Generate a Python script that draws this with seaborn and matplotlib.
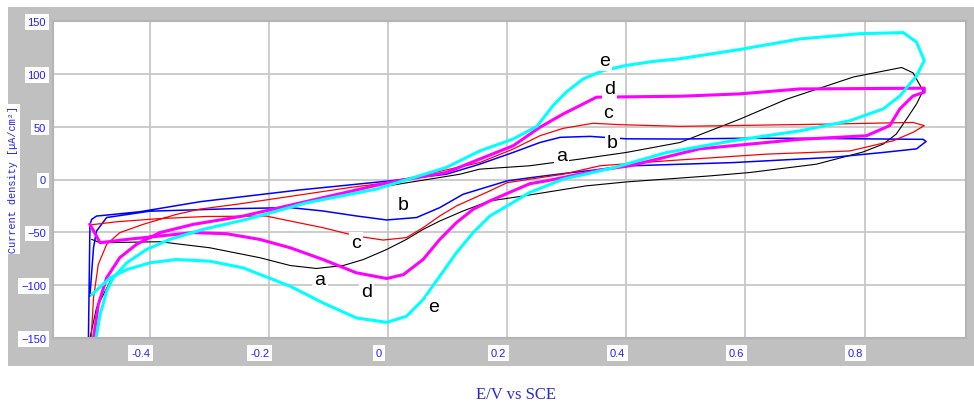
import numpy as np
import pandas as pd
import matplotlib
matplotlib.use('Agg')
import matplotlib.pyplot as plt
import matplotlib.transforms as mtrans
import seaborn as sns

# ── Data (E in V vs SCE, j in uA/cm2) ────────────────────────────────────────
# each curve: anodic sweep from -0.5 V up to 0.9 V, then cathodic sweep back
A_E = [-0.502, -0.500, -0.489, -0.466, -0.438, -0.405, -0.366, -0.310, -0.237, -0.136,
       -0.019, 0.000, 0.121, 0.154, 0.238, 0.322, 0.400, 0.490, 0.590, 0.669, 0.781,
       0.862, 0.881, 0.898,
       0.887, 0.870, 0.853, 0.831, 0.797, 0.719, 0.607, 0.540, 0.400, 0.333, 0.227,
       0.171, 0.126, 0.087, 0.059, 0.031, -0.002, -0.041, -0.075, -0.120, -0.164,
       -0.215, -0.299, -0.383, -0.483, -0.497]
A_J = [-170, -150, -121.6, -96.3, -78.8, -66.2, -56.7, -47.2, -37.7, -22,
       -9, -6, 5, 9.8, 13, 19.3, 25.6, 35, 57, 76, 97,
       106, 101, 84,
       71.5, 57, 43, 33.5, 26, 14.5, 6.6, 3.4, -2.3, -6, -15.6,
       -20.3, -29.8, -39.3, -47.2, -56.7, -66.2, -75.7, -81.4, -84.2, -81.4,
       -74, -64.6, -58.9, -59.8, -56.7]

B_E = [-0.503, -0.500, -0.497, -0.489, -0.460, -0.416, -0.315, -0.150, 0.000, 0.098,
       0.154, 0.210, 0.255, 0.289, 0.339, 0.400, 0.490, 0.590, 0.690, 0.898,
       0.903, 0.887, 0.831, 0.747, 0.579, 0.410, 0.300, 0.250, 0.200, 0.154, 0.126,
       0.087, 0.048, -0.002, -0.053, -0.109, -0.164, -0.260, -0.400, -0.472, -0.489,
       -0.494, -0.500]
B_J = [-170, -42.5, -37.7, -34.6, -33, -30.5, -21, -10, -1.5, 5,
       14.5, 25.6, 35, 39.9, 40.8, 38.5, 38.3, 39, 39, 38,
       36, 29, 25.6, 21, 16, 13, 6, 2.5, -1.3, -9.2, -14,
       -26.6, -36, -38.3, -34.5, -29.8, -26.6, -27.6, -30, -36, -48.8,
       -64.6, -110]

C_E = [-0.500, -0.494, -0.486, -0.472, -0.450, -0.411, -0.355, -0.315, -0.248, -0.064,
       0.000, 0.154, 0.210, 0.255, 0.294, 0.344, 0.389, 0.490, 0.747, 0.881, 0.900,
       0.881, 0.848, 0.775, 0.635, 0.468, 0.356, 0.294, 0.200, 0.171, 0.115, 0.087,
       0.059, 0.031, -0.008, -0.053, -0.109, -0.164, -0.204, -0.305, -0.383, -0.455,
       -0.500]
C_J = [-170, -112, -80.4, -61.4, -50.3, -42.5, -33, -28, -23, -7.6,
       -3, 16, 28.8, 41.4, 48.4, 53.2, 51.9, 50.3, 52.5, 54, 51,
       44.6, 36.7, 27, 24, 17.7, 13, 5, -3, -10.8, -25, -34.5,
       -45.6, -55, -57.3, -53.5, -45.6, -39.3, -34.6, -35, -37, -40,
       -43]

D_E = [-0.497, -0.494, -0.486, -0.472, -0.450, -0.422, -0.383, -0.327, -0.243, -0.100,
       0.000, 0.098, 0.154, 0.210, 0.255, 0.294, 0.322, 0.350, 0.366, 0.490, 0.590,
       0.691, 0.900,
       0.900, 0.881, 0.859, 0.842, 0.803, 0.691, 0.523, 0.406, 0.356, 0.266, 0.238,
       0.171, 0.143, 0.115, 0.087, 0.059, 0.026, -0.002, -0.053, -0.109, -0.164,
       -0.215, -0.271, -0.327, -0.383, -0.438, -0.483, -0.500]
D_J = [-170, -150, -118.4, -93, -74, -61.4, -50.3, -42.5, -34.6, -16,
       -3, 6.6, 19.3, 31.9, 49.4, 62, 69.9, 77.9, 78, 78.8, 81,
       85.7, 86.4,
       82.6, 79, 66.8, 51, 41.4, 38, 29, 13, 9, -1.3, -4,
       -20.3, -28.2, -40.8, -56.7, -75.7, -90, -93.7, -88.3, -75.7, -64.6,
       -56.7, -51.3, -50.3, -53.5, -56.7, -59.8, -42.5]

E_E = [-0.496, -0.483, -0.472, -0.461, -0.438, -0.405, -0.366, -0.310, -0.237, -0.136,
       -0.019, 0.098, 0.154, 0.210, 0.250, 0.277, 0.299, 0.328, 0.361, 0.400, 0.445,
       0.490, 0.590, 0.691, 0.792, 0.865, 0.887, 0.900,
       0.887, 0.859, 0.831, 0.775, 0.691, 0.579, 0.468, 0.378, 0.294, 0.238, 0.200,
       0.171, 0.143, 0.115, 0.087, 0.059, 0.031, -0.002, -0.053, -0.109, -0.164,
       -0.243, -0.299, -0.355, -0.399, -0.438, -0.466, -0.497]
E_J = [-170, -128, -105.8, -93, -78.8, -66.2, -56.7, -47.2, -37.7, -22,
       -9, 11.4, 27, 38.3, 50.3, 69.9, 82.6, 95.3, 103, 108, 111.7,
       114.3, 123, 133, 138, 139, 130, 112.6,
       98, 79, 66.8, 55.6, 46, 36.7, 25.6, 11, 0.3, -12.3, -25,
       -34.6, -50.3, -69.3, -91.5, -113.7, -129.5, -135.2, -131, -116.8, -101,
       -83.6, -77.3, -75.7, -78.8, -85.2, -93, -109]

CURVES = ['a', 'b', 'c', 'd', 'e']
POTENTIALS = [A_E, B_E, C_E, D_E, E_E]
CURRENTS = [A_J, B_J, C_J, D_J, E_J]

X_TICKS = [-0.4, -0.2, 0.0, 0.2, 0.4, 0.6, 0.8]
X_TICKLABELS = ['-0.4', '-0.2', '0', '0.2', '0.4', '0.6', '0.8']
Y_TICKS = [-150, -100, -50, 0, 50, 100, 150]

# ── Style ─────────────────────────────────────────────────────────────────────
COLORS = {'a': '#000000', 'b': '#0000ff', 'c': '#ff0000', 'd': '#ff00ff', 'e': '#00ffff'}
WIDTHS = {'a': 0.8, 'b': 1.1, 'c': 0.9, 'd': 2.2, 'e': 2.2}
# two label spots per curve (anodic plateau, cathodic peak)
LABEL_POS = {
    'a': [(0.291, 22.4), (-0.114, -94.7)],
    'b': [(0.377, 35), (0.026, -23.5)],
    'c': [(0.370, 63.6), (-0.053, -60)],
    'd': [(0.372, 85.8), (-0.036, -105.8)],
    'e': [(0.364, 112.6), (0.076, -120)],
}
TICK_BLUE = '#1f1fff'
FRAME_GRAY = '#c0c0c0'

plt.rcParams.update({
    'font.family': 'Liberation Sans',
    'font.size': 8,
})

df = pd.concat([
    pd.DataFrame({'curve': k, 'step': np.arange(len(e)), 'E': e, 'j': j})
    for k, e, j in zip(CURVES, POTENTIALS, CURRENTS)
], ignore_index=True)

fig = plt.figure(figsize=(9.74, 4.06), dpi=100)
fig.patch.set_facecolor('white')

# gray instrument frame behind the plot
bg = fig.add_axes([8 / 974, 1 - 367 / 406, 966 / 974, 359 / 406], zorder=0)
bg.set_facecolor(FRAME_GRAY)
bg.set_xticks([])
bg.set_yticks([])
for sp in bg.spines.values():
    sp.set_visible(False)

ax = fig.add_axes([53 / 974, 1 - 339 / 406, 913 / 974, 317 / 406], zorder=1)
ax.set_facecolor('white')

for k in CURVES:
    sns.lineplot(data=df[df['curve'] == k], x='E', y='j', sort=False, estimator=None,
                 color=COLORS[k], linewidth=WIDTHS[k], ax=ax, legend=False)
    for (x, y) in LABEL_POS[k]:
        ax.text(x, y, k, fontsize=14, ha='center', va='center', color='black', zorder=10,
                bbox=dict(facecolor='white', edgecolor='none', pad=1.5))

ax.set_xlim(-0.562, 0.970)
ax.set_ylim(-150, 150)
ax.set_xticks(X_TICKS)
ax.set_xticklabels(X_TICKLABELS)
ax.set_yticks(Y_TICKS)
ax.set_xlabel('')
ax.set_ylabel('')
ax.grid(True, color='#c8c8c8', linewidth=1.3, zorder=0)
ax.set_axisbelow(True)
for sp in ax.spines.values():
    sp.set_color('#b4b4b4')
    sp.set_linewidth(1.5)
ax.tick_params(length=0, labelcolor=TICK_BLUE, labelsize=8)
ax.tick_params(axis='y', pad=5)
ax.tick_params(axis='x', pad=7)

shift = mtrans.ScaledTranslation(-9 / 100, 0, fig.dpi_scale_trans)
for lbl in ax.get_xticklabels():
    lbl.set_transform(lbl.get_transform() + shift)
    lbl.set_bbox(dict(facecolor='white', edgecolor='none', pad=2))
for lbl in ax.get_yticklabels():
    lbl.set_bbox(dict(facecolor='white', edgecolor='none', pad=2))

fig.text(13.5 / 974, 1 - 180 / 406, 'Current density [µA/cm²]', rotation=90,
         family='Liberation Mono', fontsize=7.3, color=TICK_BLUE, ha='center', va='center',
         bbox=dict(facecolor='white', edgecolor='none', pad=1), zorder=5)
fig.text(516 / 974, 1 - 395 / 406, 'E/V vs SCE', family='Liberation Serif', fontsize=12,
         color='#2a2acc', ha='center', va='center')

fig.savefig('out.png', dpi=100)
